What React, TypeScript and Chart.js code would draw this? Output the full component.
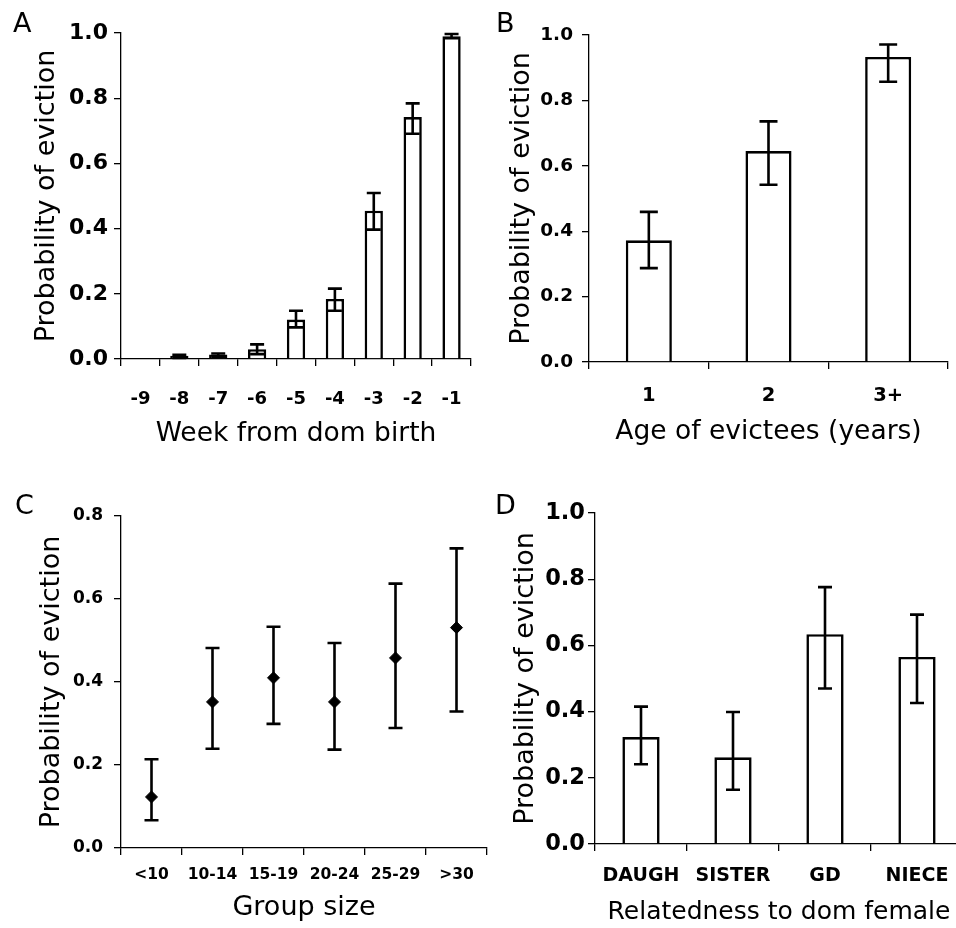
import React, { useEffect, useRef } from 'react';
import { Chart, registerables } from 'chart.js';

Chart.register(...registerables);

const FONT = '"DejaVu Sans", "Liberation Sans", Arial, sans-serif';

// ---- Panel A: week from dom birth ----
const weekLabels = ['-9', '-8', '-7', '-6', '-5', '-4', '-3', '-2', '-1'];
const weekProb = [0.002, 0.01, 0.014, 0.03, 0.121, 0.184, 0.455, 0.742, 0.99];
const weekLo = [null, 0.003, 0.005, 0.015, 0.097, 0.148, 0.397, 0.691, 0.984];
const weekHi = [null, 0.013, 0.017, 0.045, 0.148, 0.216, 0.509, 0.784, 0.997];

// ---- Panel B: age of evictees ----
const ageLabels = ['1', '2', '3+'];
const ageProb = [0.372, 0.645, 0.933];
const ageLo = [0.287, 0.542, 0.857];
const ageHi = [0.459, 0.736, 0.971];

// ---- Panel C: group size ----
const groupLabels = ['<10', '10-14', '15-19', '20-24', '25-29', '>30'];
const groupProb = [0.123, 0.352, 0.41, 0.352, 0.458, 0.531];
const groupLo = [0.067, 0.239, 0.299, 0.237, 0.289, 0.329];
const groupHi = [0.214, 0.482, 0.533, 0.494, 0.637, 0.722];

// ---- Panel D: relatedness ----
const relLabels = ['DAUGH', 'SISTER', 'GD', 'NIECE'];
const relProb = [0.323, 0.262, 0.634, 0.565];
const relLo = [0.241, 0.164, 0.47, 0.426];
const relHi = [0.415, 0.399, 0.776, 0.693];

const yTitle = 'Probability of eviction';

type Spec = {
  letter: string;
  letterX: number;
  letterY: number;
  left: number;
  top: number;
  width: number;
  height: number;
  kind: 'bar' | 'point';
  labels: string[];
  values: number[];
  lo: (number | null)[];
  hi: (number | null)[];
  xTitle: string;
  yMax: number;
  padTop: number;
  padRight: number;
  yWidth: number;
  xHeight: number;
  yTickSize: number;
  xTickSize: number;
  yTickPad: number;
  xTickPad: number;
  xTickLH: number;
  xTitleSize: number;
  xTitlePad: number;
  yTitlePad: number;
  barPct: number;
  cap: number;
};

const specs: Spec[] = [
  {
    letter: 'A', letterX: 13, letterY: 32, left: 0, top: 0, width: 478, height: 464,
    kind: 'bar', labels: weekLabels, values: weekProb, lo: weekLo, hi: weekHi,
    xTitle: 'Week from dom birth', yMax: 1, padTop: 33, padRight: 7, yWidth: 121, xHeight: 105,
    yTickSize: 22, xTickSize: 18, yTickPad: 6, xTickPad: 2, xTickLH: 3.5, xTitleSize: 26.5, xTitlePad: 14, yTitlePad: 31,
    barPct: 0.47, cap: 14,
  },
  {
    letter: 'B', letterX: 18, letterY: 32, left: 478, top: 0, width: 478, height: 464,
    kind: 'bar', labels: ageLabels, values: ageProb, lo: ageLo, hi: ageHi,
    xTitle: 'Age of evictees (years)', yMax: 1, padTop: 35, padRight: 8, yWidth: 111, xHeight: 102,
    yTickSize: 18.5, xTickSize: 19.5, yTickPad: 9, xTickPad: 15, xTickLH: 1.2, xTitleSize: 26.5, xTitlePad: 16, yTitlePad: 27.5,
    barPct: 0.385, cap: 18,
  },
  {
    letter: 'C', letterX: 15, letterY: 50, left: 0, top: 464, width: 495, height: 464,
    kind: 'point', labels: groupLabels, values: groupProb, lo: groupLo, hi: groupHi,
    xTitle: 'Group size', yMax: 0.8, padTop: 52, padRight: 8, yWidth: 121, xHeight: 80,
    yTickSize: 17, xTickSize: 15.5, yTickPad: 11, xTickPad: 11, xTickLH: 1.2, xTitleSize: 27, xTitlePad: 4, yTitlePad: 36,
    barPct: 0.4, cap: 14,
  },
  {
    letter: 'D', letterX: 17, letterY: 50, left: 478, top: 464, width: 495, height: 464,
    kind: 'bar', labels: relLabels, values: relProb, lo: relLo, hi: relHi,
    xTitle: 'Relatedness to dom female', yMax: 1, padTop: 49, padRight: 10, yWidth: 117, xHeight: 84,
    yTickSize: 22.5, xTickSize: 19, yTickPad: 3, xTickPad: 14, xTickLH: 1.2, xTitleSize: 25, xTitlePad: 1, yTitlePad: 31.5,
    barPct: 0.405, cap: 14,
  },
];

function makeConfig(s: Spec): any {
  const errorPlugin = {
    id: 'errorBars' + s.letter,
    afterDatasetsDraw(chart: any) {
      const meta = chart.getDatasetMeta(0);
      const ys = chart.scales.y;
      const ctx = chart.ctx;
      ctx.save();
      ctx.strokeStyle = '#000';
      ctx.lineWidth = 2.6;
      ctx.lineCap = 'butt';
      meta.data.forEach((el: any, i: number) => {
        const l = s.lo[i];
        const h = s.hi[i];
        if (l == null || h == null) return;
        const x = el.x;
        const y1 = ys.getPixelForValue(l);
        const y2 = ys.getPixelForValue(h);
        ctx.beginPath();
        ctx.moveTo(x, y1);
        ctx.lineTo(x, y2);
        ctx.moveTo(x - s.cap / 2, y1);
        ctx.lineTo(x + s.cap / 2, y1);
        ctx.moveTo(x - s.cap / 2, y2);
        ctx.lineTo(x + s.cap / 2, y2);
        ctx.stroke();
      });
      ctx.restore();
    },
  };
  const letterPlugin = {
    id: 'letter' + s.letter,
    afterDraw(chart: any) {
      const ctx = chart.ctx;
      ctx.save();
      ctx.fillStyle = '#000';
      ctx.font = `27px ${FONT}`;
      ctx.textAlign = 'left';
      ctx.textBaseline = 'alphabetic';
      ctx.fillText(s.letter, s.letterX, s.letterY);
      ctx.restore();
    },
  };

  const dataset: any =
    s.kind === 'bar'
      ? {
          data: s.values,
          backgroundColor: '#fff',
          borderColor: '#000',
          borderWidth: 2.6,
          barPercentage: s.barPct,
          categoryPercentage: 1,
        }
      : {
          data: s.values,
          showLine: false,
          pointStyle: 'rectRot',
          pointRadius: 6,
          pointBackgroundColor: '#000',
          pointBorderColor: '#000',
          pointBorderWidth: 1,
        };

  return {
    type: s.kind === 'bar' ? 'bar' : 'line',
    data: { labels: s.labels, datasets: [dataset] },
    plugins: [errorPlugin, letterPlugin],
    options: {
      animation: false,
      responsive: false,
      devicePixelRatio: 1,
      events: [],
      layout: { padding: { top: s.padTop, right: s.padRight, left: 0, bottom: 0 } },
      plugins: { legend: { display: false }, tooltip: { enabled: false } },
      scales: {
        x: {
          type: 'category',
          offset: true,
          grid: {
            display: true,
            drawOnChartArea: false,
            drawTicks: true,
            tickLength: 7,
            color: '#000',
            lineWidth: 1.3,
            offset: true,
          },
          border: { display: true, color: '#000', width: 1.3 },
          ticks: {
            color: '#000',
            font: { family: FONT, size: s.xTickSize, weight: 'bold', lineHeight: s.xTickLH },
            padding: s.xTickPad,
            maxRotation: 0,
            autoSkip: false,
          },
          title: {
            display: true,
            text: s.xTitle,
            color: '#000',
            font: { family: FONT, size: s.xTitleSize, weight: 'normal' },
            padding: { top: 0, bottom: s.xTitlePad },
          },
          afterFit: (scale: any) => {
            scale.height = s.xHeight;
          },
        },
        y: {
          type: 'linear',
          min: 0,
          max: s.yMax,
          grid: {
            display: true,
            drawOnChartArea: false,
            drawTicks: true,
            tickLength: 7,
            color: '#000',
            lineWidth: 1.3,
          },
          border: { display: true, color: '#000', width: 1.3 },
          ticks: {
            stepSize: 0.2,
            color: '#000',
            font: { family: FONT, size: s.yTickSize, weight: 'bold' },
            padding: s.yTickPad,
            callback: (v: any) => Number(v).toFixed(1),
          },
          title: {
            display: true,
            text: yTitle,
            color: '#000',
            font: { family: FONT, size: 27, weight: 'normal' },
            padding: { top: s.yTitlePad, bottom: 0 },
          },
          afterFit: (scale: any) => {
            scale.width = s.yWidth;
          },
        },
      },
    },
  };
}

function Panel({ spec }: { spec: Spec }) {
  const ref = useRef<HTMLCanvasElement | null>(null);
  useEffect(() => {
    if (!ref.current) return;
    const chart = new Chart(ref.current, makeConfig(spec));
    return () => chart.destroy();
  }, [spec]);
  return (
    <canvas
      ref={ref}
      width={spec.width}
      height={spec.height}
      style={{
        position: 'absolute',
        left: spec.left,
        top: spec.top,
        width: spec.width,
        height: spec.height,
      }}
    />
  );
}

export default function App() {
  return (
    <div
      style={{
        position: 'absolute',
        left: 0,
        top: 0,
        width: 956,
        height: 928,
        overflow: 'hidden',
        background: '#fff',
      }}
    >
      {specs.map((s) => (
        <Panel key={s.letter} spec={s} />
      ))}
    </div>
  );
}
